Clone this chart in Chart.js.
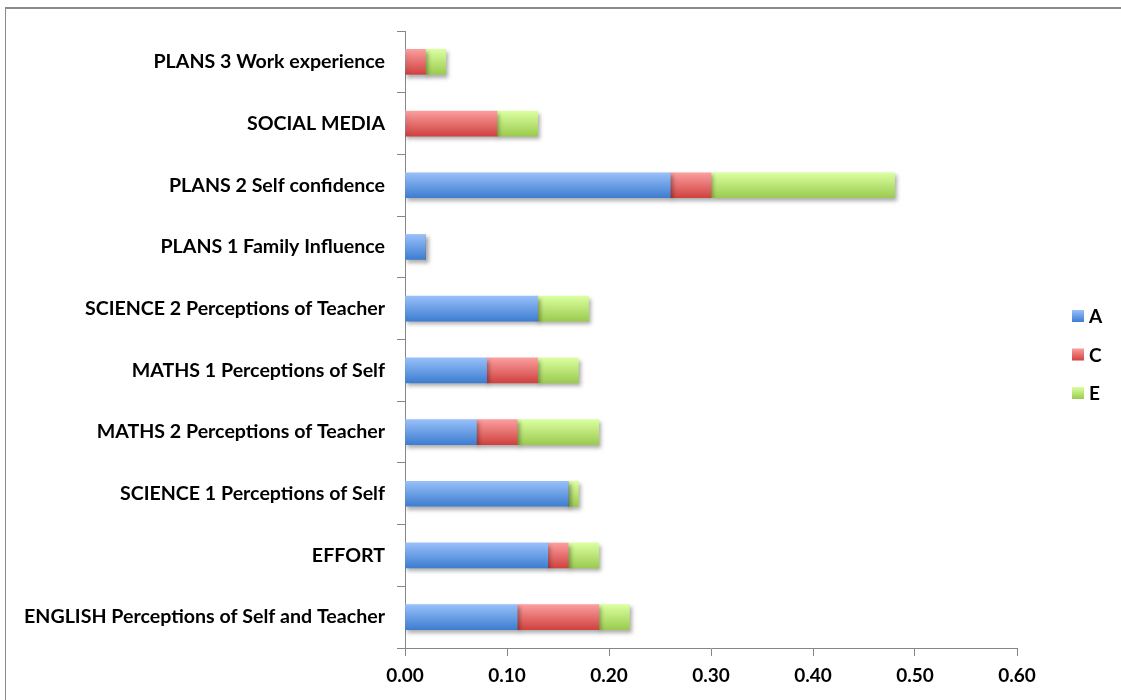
<!DOCTYPE html>
<html>
<head>
<meta charset="utf-8">
<script src="https://cdn.jsdelivr.net/npm/chart.js@4.4.1/dist/chart.umd.min.js"></script>
<style>
  html, body { margin: 0; padding: 0; background: #fff; }
  #frame { position: absolute; left: 5px; top: 7px; width: 1130px; height: 720px;
           border-top: 2px solid #8a8a8a; border-left: 1px solid #8a8a8a; }
  #wrap { position: absolute; left: 0; top: 0; width: 1121px; height: 700px; }
</style>
</head>
<body>
<div id="frame"></div>
<div id="wrap"><canvas id="chart"></canvas></div>
<script>
// ---------------- data ----------------
const categories = [
  'PLANS 3 Work experience',
  'SOCIAL MEDIA',
  'PLANS 2 Self confidence',
  'PLANS 1 Family Influence',
  'SCIENCE 2 Perceptions of Teacher',
  'MATHS 1 Perceptions of Self',
  'MATHS 2 Perceptions of Teacher',
  'SCIENCE 1 Perceptions of Self',
  'EFFORT',
  'ENGLISH Perceptions of Self and Teacher'
];
const seriesNames = ['A', 'C', 'E'];
const valuesA = [0, 0, 0.26, 0.02, 0.13, 0.08, 0.07, 0.16, 0.14, 0.11];
const valuesC = [0.02, 0.09, 0.04, 0, 0, 0.05, 0.04, 0, 0.02, 0.08];
const valuesE = [0.02, 0.04, 0.18, 0, 0.05, 0.04, 0.08, 0.01, 0.03, 0.03];
const xMin = 0;
const xMax = 0.6;
const xStep = 0.1;

// ---------------- styles ----------------
const FONT = 'Lato, "Open Sans", sans-serif';
const AXIS = '#868686';
const BAR_H = 25;
const gradients = [
  ['#98c0fa', '#3d7dd0'],  // A
  ['#fb9e9e', '#cf4240'],  // C
  ['#dbffa0', '#9bcb4f']   // E
];

function barFill(top, bottom) {
  return function (context) {
    const chart = context.chart;
    const y = chart.scales && chart.scales.y;
    if (!y || context.dataIndex === undefined) return bottom;
    const c = y.getPixelForValue(context.dataIndex);
    if (!isFinite(c)) return bottom;
    const g = chart.ctx.createLinearGradient(0, c - BAR_H / 2, 0, c + BAR_H / 2);
    g.addColorStop(0, top);
    g.addColorStop(1, bottom);
    return g;
  };
}

// soft shadow under the bars
const barShadow = {
  id: 'barShadow',
  beforeDatasetsDraw(chart) {
    const ctx = chart.ctx;
    ctx.save();
    ctx.shadowColor = 'rgba(0,0,0,0.32)';
    ctx.shadowBlur = 4;
    ctx.shadowOffsetX = 2;
    ctx.shadowOffsetY = 3;
  },
  afterDatasetsDraw(chart) {
    chart.ctx.restore();
  }
};

// legend on the right, drawn from the datasets
const sideLegend = {
  id: 'sideLegend',
  afterDraw(chart) {
    const ctx = chart.ctx;
    ctx.save();
    ctx.font = 'bold 19px ' + FONT;
    ctx.textBaseline = 'middle';
    ctx.textAlign = 'left';
    chart.data.datasets.forEach((ds, i) => {
      const cy = 316 + i * 38.5;
      const x = 1072;
      const g = ctx.createLinearGradient(0, cy - 6, 0, cy + 6);
      g.addColorStop(0, gradients[i][0]);
      g.addColorStop(1, gradients[i][1]);
      ctx.fillStyle = g;
      ctx.fillRect(x, cy - 6, 12, 12);
      ctx.fillStyle = '#000';
      ctx.fillText(ds.label, x + 17, cy + 1);
    });
    ctx.restore();
  }
};

const allValues = [valuesA, valuesC, valuesE];

const ctx = document.getElementById('chart').getContext('2d');
const chart = new Chart(ctx, {
  type: 'bar',
  data: {
    labels: categories,
    datasets: seriesNames.map((name, i) => ({
      label: name,
      data: allValues[i],
      backgroundColor: barFill(gradients[i][0], gradients[i][1]),
      borderWidth: 0,
      barThickness: BAR_H
    }))
  },
  options: {
    indexAxis: 'y',
    responsive: true,
    maintainAspectRatio: false,
    animation: false,
    layout: { padding: { top: 31, right: 104, left: 0, bottom: 0 } },
    plugins: {
      legend: { display: false },
      tooltip: { enabled: false }
    },
    scales: {
      x: {
        stacked: true,
        min: xMin,
        max: xMax,
        afterFit: s => { s.height = 52; },
        grid: { drawOnChartArea: false, drawTicks: true, tickLength: 8, color: AXIS },
        border: { display: true, color: AXIS, width: 1 },
        ticks: {
          stepSize: xStep,
          padding: 8,
          color: '#000',
          font: { family: FONT, size: 19, weight: 'bold' },
          callback: v => Number(v).toFixed(2)
        }
      },
      y: {
        stacked: true,
        afterFit: s => { s.width = 405; },
        grid: { offset: true, drawOnChartArea: false, drawTicks: true, tickLength: 8, color: AXIS },
        border: { display: true, color: AXIS, width: 1 },
        ticks: {
          padding: 12,
          color: '#000',
          font: { family: FONT, size: 19.6, weight: 'bold', lineHeight: 1.3 }
        }
      }
    }
  },
  plugins: [barShadow, sideLegend]
});
</script>
</body>
</html>
